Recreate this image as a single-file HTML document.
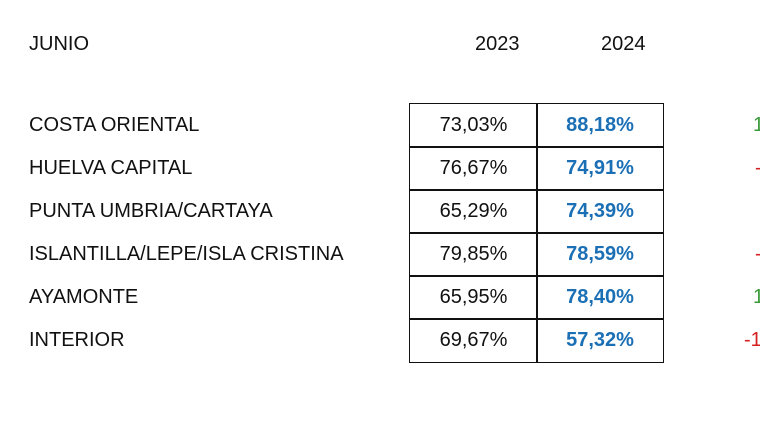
<!DOCTYPE html>
<html><head><meta charset="utf-8"><style>
html,body{margin:0;padding:0;width:760px;height:427px;overflow:hidden;background:#fff;font-family:"Liberation Sans",Arial,sans-serif;color:#111}
.t{position:absolute;font-size:20px;line-height:24px;white-space:nowrap}
.c{position:absolute;border:1.5px solid #111;box-sizing:border-box;font-size:20px;display:flex;align-items:center;justify-content:center}
.b{color:#1a6fb5;font-weight:bold}
.g{color:#3a9a3a}.r{color:#d42020}
</style></head><body>
<div class="t" style="left:29px;top:32px">JUNIO</div>
<div class="t" style="left:475px;top:32px">2023</div>
<div class="t" style="left:601px;top:32px">2024</div>
<div id="rows"></div>
<script>
const labels=["COSTA ORIENTAL","HUELVA CAPITAL","PUNTA UMBRIA/CARTAYA","ISLANTILLA/LEPE/ISLA CRISTINA","AYAMONTE","INTERIOR"];
const v2023=["73,03%","76,67%","65,29%","79,85%","65,95%","69,67%"];
const v2024=["88,18%","74,91%","74,39%","78,59%","78,40%","57,32%"];
const diffs=["1","-","","-","1","-1"];
const diffCls=["g","r","","r","g","r"];
const root=document.getElementById('rows');
labels.forEach((l,i)=>{
  const y=103+i*43;
  const a=document.createElement('div');a.className='t';a.style.left='29px';a.style.top=(y+10)+'px';a.textContent=l;
  
  
  root.appendChild(a);
  const c1=document.createElement('div');c1.className='c';
  c1.style.cssText=`left:409px;top:${y}px;width:129px;height:45px`;c1.textContent=v2023[i];
  
  
  root.appendChild(c1);
  const c2=document.createElement('div');c2.className='c b';
  c2.style.cssText=`left:536px;top:${y}px;width:128px;height:45px`;c2.textContent=v2024[i];
  
  
  root.appendChild(c2);
  if(diffs[i]){
    const d=document.createElement('div');d.className='t '+diffCls[i];
    d.style.top=(y+10)+'px';
    d.style.left=(diffs[i]=='1'?753:diffs[i]=='-'?755:744)+'px';
    d.textContent=diffs[i];
    
    
    root.appendChild(d);
  }
});
</script>
</body></html>
